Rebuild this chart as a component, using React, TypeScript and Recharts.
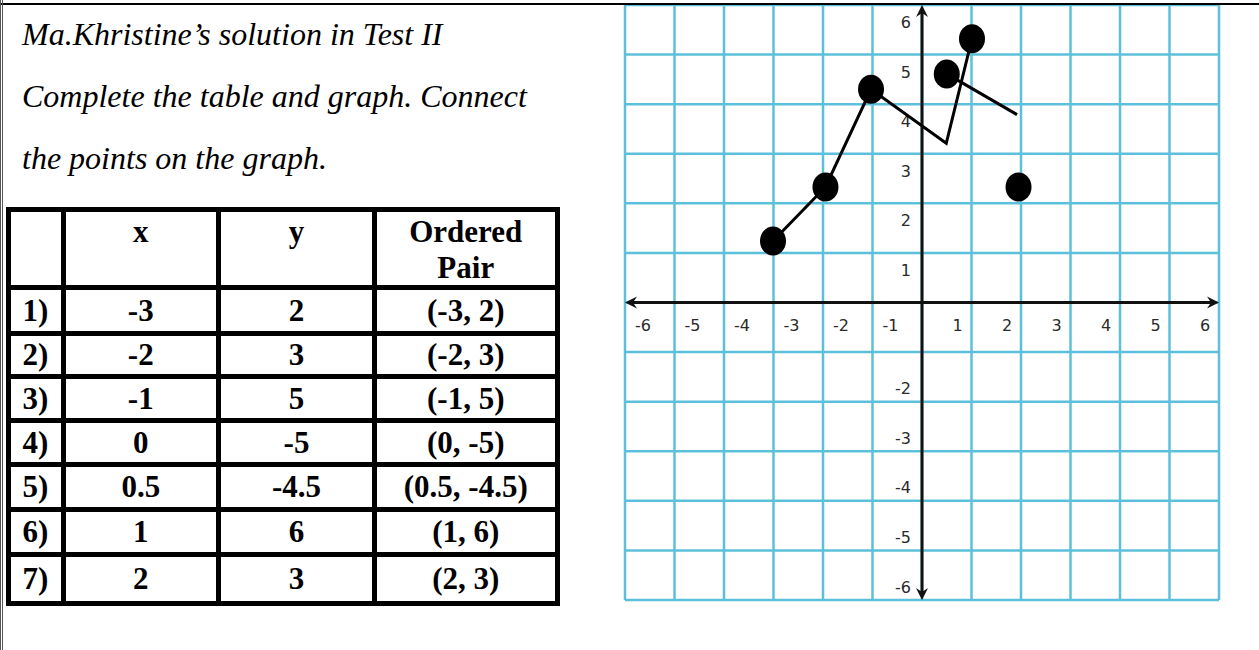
import { ScatterChart, Scatter, XAxis, YAxis, CartesianGrid, ReferenceLine } from "recharts";

// worksheet text
const TITLE_LINES = [
  "Ma.Khristine’s solution in Test II",
  "Complete the table and graph. Connect",
  "the points on the graph."
];
const HEADERS = ["", "x", "y", "Ordered\nPair"];
const ROW_LABELS = ["1)", "2)", "3)", "4)", "5)", "6)", "7)"];
const X_VALUES = ["-3", "-2", "-1", "0", "0.5", "1", "2"];
const Y_VALUES = ["2", "3", "5", "-5", "-4.5", "6", "3"];
const PAIRS = ["(-3, 2)", "(-2, 3)", "(-1, 5)", "(0, -5)", "(0.5, -4.5)", "(1, 6)", "(2, 3)"];

// what was actually drawn on the graph paper
const PLOTTED_DOTS = [
  { x: -3.01, y: 1.24 },
  { x: -1.95, y: 2.33 },
  { x: -1.03, y: 4.3 },
  { x: 0.5, y: 4.61 },
  { x: 1.01, y: 5.32 },
  { x: 1.95, y: 2.33 }
];
const PATH_MAIN = [
  { x: -3.01, y: 1.24 },
  { x: -1.95, y: 2.33 },
  { x: -1.03, y: 4.3 },
  { x: 0.49, y: 3.21 },
  { x: 1.01, y: 5.32 }
];
const PATH_SHORT = [
  { x: 0.5, y: 4.61 },
  { x: 1.92, y: 3.79 }
];

const GRID_TICKS = [-6, -5, -4, -3, -2, -1, 0, 1, 2, 3, 4, 5, 6];
const X_LABELS = [-6, -5, -4, -3, -2, -1, 1, 2, 3, 4, 5, 6];
const Y_LABELS = [6, 5, 4, 3, 2, 1, -2, -3, -4, -5, -6];

const SERIF = '"Liberation Serif", "Times New Roman", serif';
const GRID_BLUE = "#5cc0dc";

// table geometry (line centres)
const COL_LINES = [8, 63, 218.5, 374.5, 557];
const ROW_LINES = [209.5, 287.5, 333.5, 376.5, 420.5, 464.5, 509.5, 554.5, 603];
const RULE = 5;

function arrowPath(tx: number, ty: number, dx: number, dy: number) {
  const len = 12, half = 6, notch = 8;
  const px = -dy, py = dx;
  const bx = tx - dx * len, by = ty - dy * len;
  const nx = tx - dx * notch, ny = ty - dy * notch;
  return `M${tx},${ty} L${bx + px * half},${by + py * half} L${nx},${ny} L${bx - px * half},${by - py * half} Z`;
}

function AxisArrow(props: any) {
  const { x1, y1, x2, y2 } = props;
  const l = Math.hypot(x2 - x1, y2 - y1) || 1;
  const dx = (x2 - x1) / l, dy = (y2 - y1) / l;
  return (
    <g>
      <line x1={x1 + dx * 6} y1={y1 + dy * 6} x2={x2 - dx * 6} y2={y2 - dy * 6} stroke="#111" strokeWidth={3} />
      <path d={arrowPath(x2, y2, dx, dy)} fill="#111" />
      <path d={arrowPath(x1, y1, -dx, -dy)} fill="#111" />
    </g>
  );
}

const Blob = (p: any) => <ellipse cx={p.cx} cy={p.cy} rx={13} ry={14.5} fill="#000" />;
const Nothing = () => <g />;

const XLabel = (p: any) => (
  <text
    x={p.cx + (p.payload.x < 0 ? 18 : -14)}
    y={p.cy + 23}
    textAnchor="middle"
    dominantBaseline="central"
    fontFamily='"DejaVu Sans", sans-serif'
    fontSize={16}
    fill="#2a2a2a"
  >
    {p.payload.x}
  </text>
);

const YLabel = (p: any) => (
  <text
    x={p.cx - 11}
    y={p.cy + (p.payload.y > 0 ? 17.5 : -13)}
    textAnchor="end"
    dominantBaseline="central"
    fontFamily='"DejaVu Sans", sans-serif'
    fontSize={16}
    fill="#2a2a2a"
  >
    {p.payload.y}
  </text>
);

function Worksheet() {
  const cells: any[] = [];
  const rows = [HEADERS, ...ROW_LABELS.map((r, i) => [r, X_VALUES[i], Y_VALUES[i], PAIRS[i]])];
  rows.forEach((row, ri) => {
    row.forEach((txt, ci) => {
      const left = COL_LINES[ci] + RULE / 2;
      const top = ROW_LINES[ri] + RULE / 2;
      const w = COL_LINES[ci + 1] - COL_LINES[ci] - RULE;
      const h = ROW_LINES[ri + 1] - ROW_LINES[ri] - RULE;
      cells.push(
        <div
          key={`${ri}-${ci}`}
          style={{
            position: "absolute",
            left,
            top,
            width: w,
            height: h,
            background: "#fff",
            display: "flex",
            alignItems: ri === 0 ? "flex-start" : "center",
            justifyContent: "center",
            textAlign: "center",
            whiteSpace: "pre-line",
            fontFamily: SERIF,
            fontWeight: "bold",
            fontSize: 31,
            lineHeight: "36px",
            paddingTop: ri === 0 ? 2 : 0,
            boxSizing: "border-box"
          }}
        >
          {txt}
        </div>
      );
    });
  });
  return (
    <>
      {TITLE_LINES.map((t, i) => (
        <div
          key={t}
          style={{
            position: "absolute",
            left: 22,
            top: 18 + i * 62,
            fontFamily: SERIF,
            fontStyle: "italic",
            fontSize: 32,
            lineHeight: "32px",
            whiteSpace: "nowrap"
          }}
        >
          {t}
        </div>
      ))}
      <div
        style={{
          position: "absolute",
          left: COL_LINES[0] - RULE / 2,
          top: ROW_LINES[0] - RULE / 2,
          width: COL_LINES[4] - COL_LINES[0] + RULE,
          height: ROW_LINES[8] - ROW_LINES[0] + RULE,
          background: "#000"
        }}
      />
      {cells}
    </>
  );
}

export default function App() {
  return (
    <div style={{ position: "absolute", left: 0, top: 0, width: 1259, height: 650, background: "#fff", overflow: "hidden" }}>
      <Worksheet />
      <div style={{ position: "absolute", left: 622, top: 2 }}>
        <ScatterChart width={600} height={601} margin={{ top: 3, right: 3, bottom: 3, left: 3 }}>
          <CartesianGrid stroke={GRID_BLUE} strokeWidth={2.5} />
          <XAxis type="number" dataKey="x" domain={[-6, 6]} ticks={GRID_TICKS} hide allowDataOverflow />
          <YAxis type="number" dataKey="y" domain={[-6, 6]} ticks={GRID_TICKS} hide allowDataOverflow />
          <ReferenceLine y={0} shape={AxisArrow} />
          <ReferenceLine x={0} shape={AxisArrow} />
          <Scatter data={X_LABELS.map((x) => ({ x, y: 0 }))} shape={XLabel} isAnimationActive={false} />
          <Scatter data={Y_LABELS.map((y) => ({ x: 0, y }))} shape={YLabel} isAnimationActive={false} />
          <Scatter data={PATH_MAIN} line={{ stroke: "#000", strokeWidth: 3 }} shape={Nothing} isAnimationActive={false} />
          <Scatter data={PATH_SHORT} line={{ stroke: "#000", strokeWidth: 3 }} shape={Nothing} isAnimationActive={false} />
          <Scatter data={PLOTTED_DOTS} shape={Blob} isAnimationActive={false} />
        </ScatterChart>
      </div>
      {/* page frame */}
      <div style={{ position: "absolute", left: 0, top: 3, width: 1259, height: 2, background: "#000" }} />
      <div style={{ position: "absolute", left: 0, top: 0, width: 3, height: 650, borderLeft: "3px double #555", boxSizing: "border-box" }} />
    </div>
  );
}
